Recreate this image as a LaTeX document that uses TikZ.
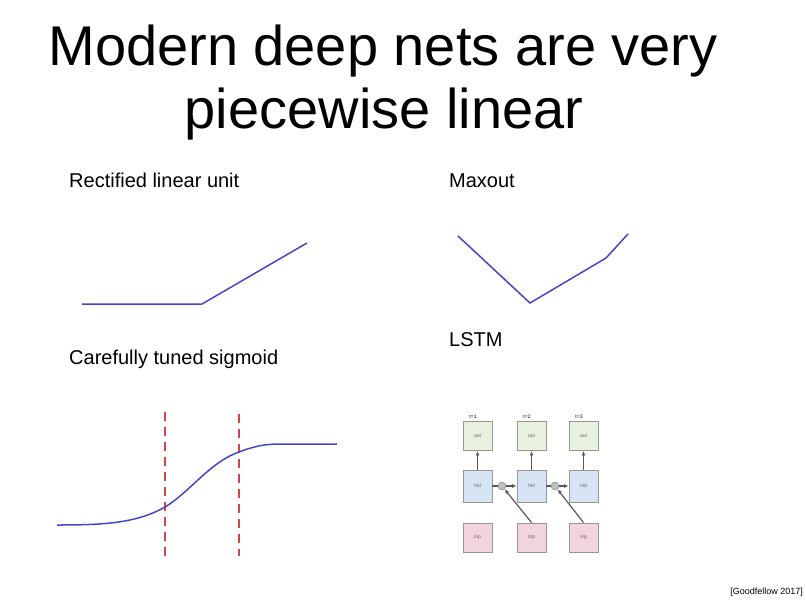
\documentclass[tikz,border=0pt]{standalone}
\usepackage{fontspec}
\setmainfont{Liberation Sans}
\usetikzlibrary{arrows.meta}
\definecolor{curveblue}{RGB}{70,70,205}
\definecolor{dashred}{RGB}{215,70,70}
\definecolor{outfill}{RGB}{232,240,222}
\definecolor{hidfill}{RGB}{214,228,244}
\definecolor{inpfill}{RGB}{242,212,222}
\definecolor{boxline}{RGB}{150,150,150}
\begin{document}
\begin{tikzpicture}[x=1pt,y=-1pt,
  title/.style={font=\fontsize{56}{60}\selectfont, anchor=base, inner sep=0pt},
  label/.style={font=\fontsize{20}{24}\selectfont, anchor=base west, inner sep=0pt},
  curve/.style={draw=curveblue, line width=1.5pt},
  guide/.style={draw=dashred, line width=1.3pt, dash pattern=on 9pt off 6pt},
  cell/.style={draw=boxline, line width=0.9pt, minimum width=29pt, minimum height=29pt, inner sep=0pt, font=\fontsize{5}{6}\selectfont, text=gray!80!black},
  outbox/.style={cell, fill=outfill},
  hidbox/.style={cell, fill=hidfill, minimum height=32pt},
  inpbox/.style={cell, fill=inpfill},
  gate/.style={circle, draw=gray, fill=gray!50, minimum size=8pt, inner sep=0pt},
  wire/.style={draw=gray!70!black, line width=1.2pt},
  link/.style={wire, -{Latex[length=4.5pt,width=4pt]}},
  tstep/.style={font=\fontsize{5}{6}\selectfont, anchor=base, inner sep=0pt}
]
\useasboundingbox (0,0) rectangle (806,603);
\fill[white] (0,0) rectangle (806,603);

\node[title] (t1) at (383,65) {Modern deep nets are very};
\node[title] (t2) at (384,128) {piecewise linear};

\node[label] (lrelu) at (69,187) {Rectified linear unit};
\node[label] (lmax) at (449,187) {Maxout};
\node[label] (lsig) at (69,364) {Carefully tuned sigmoid};
\node[label] (llstm) at (449,346) {LSTM};

% ReLU
\coordinate (r0) at (82,304);
\coordinate (r1) at (202,304);
\coordinate (r2) at (307,243);
\draw[curve] (r0) -- (r1) -- (r2);

% Maxout
\coordinate (m0) at (458,236);
\coordinate (m1) at (530,303);
\coordinate (m2) at (606,258);
\coordinate (m3) at (628,234);
\draw[curve] (m0) -- (m1) -- (m2) -- (m3);

% Sigmoid
\coordinate (d1a) at (165,412);
\coordinate (d1b) at (165,556);
\coordinate (d2a) at (239,414);
\coordinate (d2b) at (239,556);
\draw[guide] (d1a) -- (d1b);
\draw[guide] (d2a) -- (d2b);
\coordinate (s0) at (57,525);
\coordinate (s2) at (165,507);
\coordinate (s3) at (239,452);
\coordinate (s4) at (280,444);
\coordinate (s5) at (337,444);
\draw[curve] (s0) .. controls (105,525) and (137,523) .. (s2)
  .. controls (190,492) and (210,462) .. (s3)
  .. controls (255,446) and (265,444) .. (s4) -- (s5);

% LSTM
\node[outbox] (o1) at (477.5,436) {out};
\node[outbox] (o2) at (531.5,436) {out};
\node[outbox] (o3) at (583.5,436) {out};
\node[hidbox] (h1) at (477.5,486) {hid};
\node[hidbox] (h2) at (531.5,486) {hid};
\node[hidbox] (h3) at (583.5,486) {hid};
\node[inpbox] (i1) at (477.5,537.5) {inp};
\node[inpbox] (i2) at (531.5,537.5) {inp};
\node[inpbox] (i3) at (583.5,537.5) {inp};
\node[tstep] (ts1) at (473,418) {t=1};
\node[tstep] (ts2) at (527,418) {t=2};
\node[tstep] (ts3) at (579,418) {t=3};
\node[gate] (g1) at (502,486) {};
\node[gate] (g2) at (555,486) {};
\draw[link] (h1) -- (o1);
\draw[link] (h2) -- (o2);
\draw[link] (h3) -- (o3);
\draw[wire] (h1.east) -- (g1);
\draw[wire] (h2.east) -- (g2);
\draw[link] (g1) -- (h2.west);
\draw[link] (g2) -- (h3.west);
\draw[link] (i2.north) -- (g1);
\draw[link] (i3.north) -- (g2);

\node[font=\fontsize{9}{11}\selectfont, anchor=base east, inner sep=0pt] (cite) at (803,594) {[Goodfellow 2017]};
\end{tikzpicture}
\end{document}
